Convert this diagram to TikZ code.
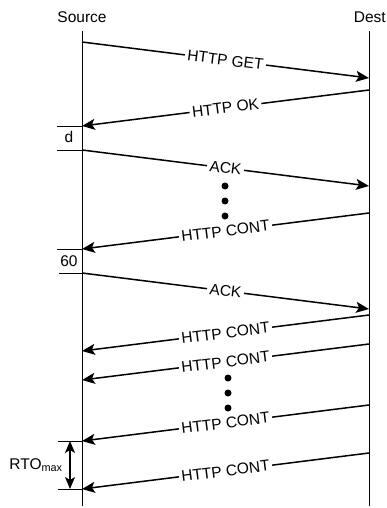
\documentclass[tikz,border=0pt]{standalone}
\usepackage{fontspec}
\setmainfont{Liberation Sans}
\usetikzlibrary{arrows.meta}
\begin{document}
\begin{tikzpicture}[x=1pt,y=-1pt,
  txt/.style={font=\fontsize{15.5}{18}\selectfont, inner sep=0pt},
  life/.style={line width=1pt},
  msg/.style={line width=1.5pt, -{Stealth[length=13pt,width=11pt,inset=3pt]}},
  lbl/.style={font=\fontsize{15.5}{18}\selectfont, fill=white, inner xsep=2.5pt, inner ysep=1pt, sloped, midway},
  tick/.style={line width=0.9pt},
  dot/.style={circle, fill=black, inner sep=0pt, minimum size=7pt},
  dim/.style={line width=1.2pt, {Stealth[length=12pt,width=10pt,inset=3pt]}-{Stealth[length=12pt,width=10pt,inset=3pt]}}
]
\useasboundingbox (0,0) rectangle (387,508);
% headers
\node[txt] (src) at (82,17) {Source};
\node[txt, anchor=east] (dst) at (386,17) {Dest};
% lifelines
\coordinate (s0) at (82,31); \coordinate (s1) at (82,506);
\coordinate (d0) at (369,31); \coordinate (d1) at (369,506);
\draw[life] (s0) -- (s1);
\draw[life] (d0) -- (d1);
% message endpoints
\coordinate (a1) at (82,42);  \coordinate (b1) at (369,78);
\coordinate (b2) at (369,90); \coordinate (a2) at (82,126);
\coordinate (a3) at (82,150); \coordinate (b3) at (369,186);
\coordinate (b4) at (369,213); \coordinate (a4) at (82,249);
\coordinate (a5) at (82,273); \coordinate (b5) at (369,309);
\coordinate (b6) at (369,315); \coordinate (a6) at (82,351);
\coordinate (b7) at (369,344); \coordinate (a7) at (82,380);
\coordinate (b8) at (369,405); \coordinate (a8) at (82,441);
\coordinate (b9) at (369,453); \coordinate (a9) at (82,489);
% messages
\draw[msg] (a1) -- node[lbl] (m1) {HTTP GET} (b1);
\draw[msg] (b2) -- node[lbl] (m2) {HTTP OK} (a2);
\draw[msg] (a3) -- node[lbl] (m3) {ACK} (b3);
\draw[msg] (b4) -- node[lbl] (m4) {HTTP CONT} (a4);
\draw[msg] (a5) -- node[lbl] (m5) {ACK} (b5);
\draw[msg] (b6) -- node[lbl] (m6) {HTTP CONT} (a6);
\draw[msg] (b7) -- node[lbl] (m7) {HTTP CONT} (a7);
\draw[msg] (b8) -- node[lbl] (m8) {HTTP CONT} (a8);
\draw[msg] (b9) -- node[lbl] (m9) {HTTP CONT} (a9);
% dots
\node[dot] (p1) at (225,186) {};
\node[dot] (p2) at (225,201) {};
\node[dot] (p3) at (225,216) {};
\node[dot] (q1) at (228,378) {};
\node[dot] (q2) at (228,393) {};
\node[dot] (q3) at (228,408) {};
% ticks
\coordinate (t1) at (57,126); \coordinate (t2) at (57,150);
\coordinate (t3) at (57,249); \coordinate (t4) at (59,273);
\coordinate (t5) at (58,441); \coordinate (t6) at (58,489);
\draw[tick] (t1) -- (a2);
\draw[tick] (t2) -- (a3);
\draw[tick] (t3) -- (a4);
\draw[tick] (t4) -- (a5);
\draw[tick] (t5) -- (a8);
\draw[tick] (t6) -- (a9);
\node[txt] (dl) at (69,137) {d};
\node[txt] (sl) at (69,261) {60};
% RTO max
\coordinate (r1) at (70,441); \coordinate (r2) at (70,489);
\draw[dim] (r1) -- (r2);
\node[txt] (rto) at (36,465) {RTO\textsubscript{max}};
\end{tikzpicture}
\end{document}
